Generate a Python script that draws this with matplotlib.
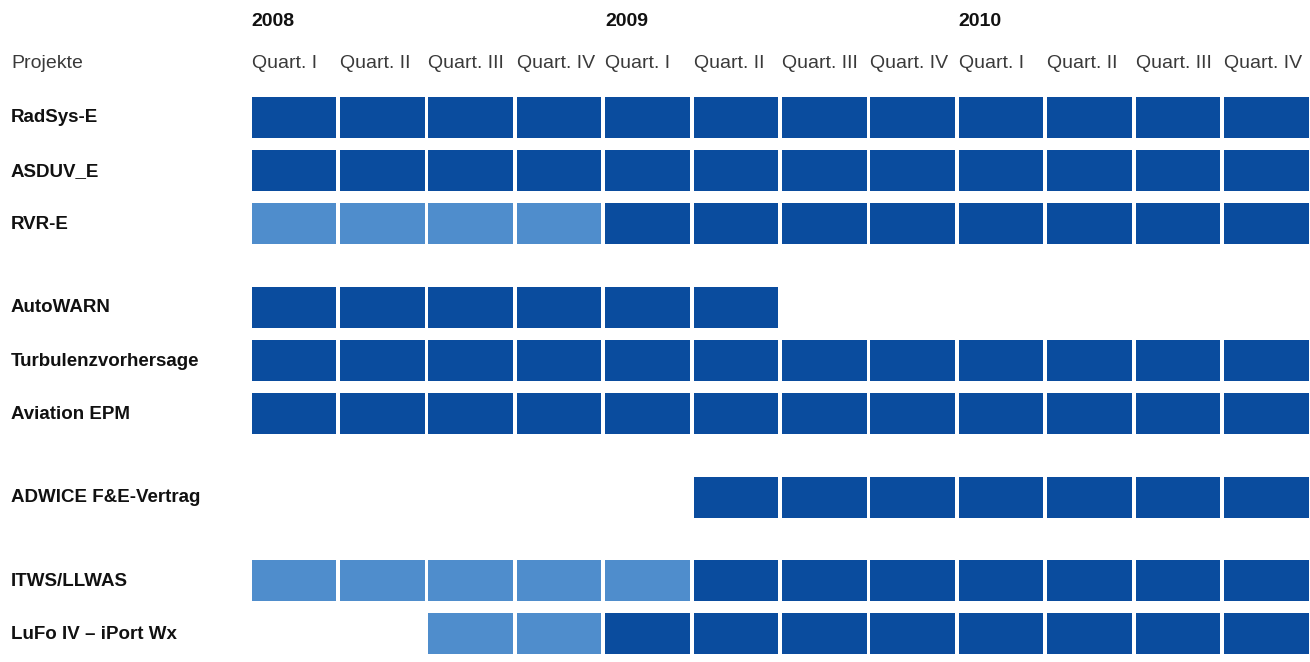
import matplotlib.pyplot as plt

# Daten: Projekte, Gruppen, Zeitraum (Quartalsindex 0..11)
projects = ['RadSys-E', 'ASDUV_E', 'RVR-E',
            'AutoWARN', 'Turbulenzvorhersage', 'Aviation EPM',
            'ADWICE F&E-Vertrag',
            'ITWS/LLWAS', 'LuFo IV \u2013 iPort Wx']
groups = [0, 0, 0, 1, 1, 1, 2, 3, 3]
start_q = [0, 0, 0, 0, 0, 0, 5, 0, 2]      # erstes Quartal
light_end = [0, 0, 4, 0, 0, 0, 5, 5, 4]    # hellblau bis (exkl.)
end_q = [12, 12, 12, 6, 12, 12, 12, 12, 12]  # letztes Quartal (exkl.)

years = ['2008', '2009', '2010']
quarters = ['Quart. I', 'Quart. II', 'Quart. III', 'Quart. IV'] * 3

dark = '#0A4C9E'
light = '#4F8DCC'

W, H = 1310, 662
fig = plt.figure(figsize=(W / 100, H / 100), dpi=100)
ax = fig.add_axes([0, 0, 1, 1])
ax.set_xlim(0, W)
ax.set_ylim(H, 0)
ax.axis('off')

# Layout (Pixel)
x0 = 251.5
col_w = 88.4
gap = 3.7
y0 = 117
pitch = 53.4
grp_gap = 29.8
bar_h = 41

font = 'Liberation Sans'

# Kopfzeile
for k, yr in enumerate(years):
    ax.text(x0 + k * 4 * col_w, 21, yr, fontsize=14, fontweight='bold',
            family=font, color='#111111', va='center', ha='left')
ax.text(11, 64, 'Projekte', fontsize=14, family=font, color='#3a3a3a',
        va='center', ha='left')
for q, lab in enumerate(quarters):
    ax.text(x0 + q * col_w, 64, lab, fontsize=14, family=font,
            color='#3a3a3a', va='center', ha='left')

# Balken
for i, name in enumerate(projects):
    yc = y0 + i * pitch + groups[i] * grp_gap
    ax.text(11, yc + 1, name, fontsize=13.5, fontweight='bold', family=font,
            color='#111111', va='center', ha='left')
    for q in range(start_q[i], end_q[i]):
        c = light if q < light_end[i] else dark
        ax.barh(yc, col_w - gap, left=x0 + q * col_w, height=bar_h,
                color=c, edgecolor='none')

fig.savefig('out.png', dpi=100, facecolor='white')
